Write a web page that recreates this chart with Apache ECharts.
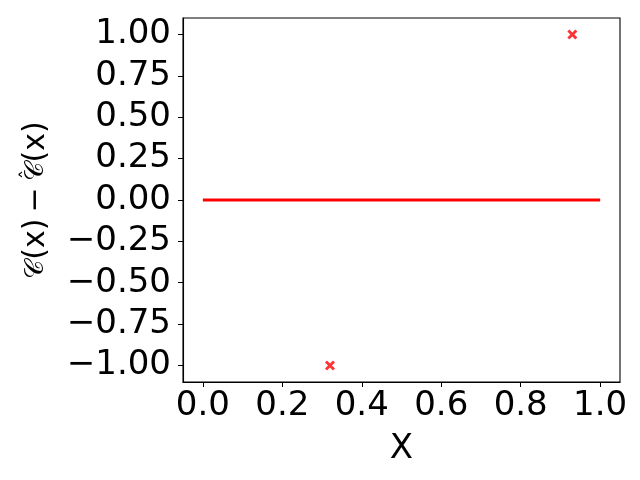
<!DOCTYPE html>
<html>
<head>
<meta charset="utf-8">
<script src="https://cdn.jsdelivr.net/npm/echarts@6/dist/echarts.min.js"></script>
<style>
  html, body { margin: 0; padding: 0; background: #fff; }
  #chart { width: 640px; height: 480px; }
</style>
</head>
<body>
<div id="chart"></div>
<script>
// 数据
const lineX = [0, 1]
const lineY = [0, 0]
const pointX = [0.32, 0.93]
const pointY = [-1, 1]
const xTicks = [0, 0.2, 0.4, 0.6, 0.8, 1.0]
const yTicks = [-1, -0.75, -0.5, -0.25, 0, 0.25, 0.5, 0.75, 1]

const fontFamily = 'DejaVu Sans'
const fontSize = 34
const minus = v => String(v).replace('-', '\u2212')
const calC = '\uD835\uDC9E'

const chart = echarts.init(document.getElementById('chart'))

const option = {
  animation: false,
  grid: {
    left: 183, right: 20, top: 18, bottom: 98,
    outerBoundsMode: 'none',
    containLabel: false,
    show: true, borderColor: '#000', borderWidth: 1.1
  },
  xAxis: {
    type: 'value',
    min: -0.05,
    max: 1.05,
    name: 'X',
    nameLocation: 'middle',
    nameGap: 50,
    nameTextStyle: { fontFamily, fontSize, color: '#000' },
    splitLine: { show: false },
    axisLine: { show: true, onZero: false, lineStyle: { color: '#000', width: 1.1 } },
    axisTick: { show: true, length: 5, customValues: xTicks, lineStyle: { color: '#000' } },
    axisLabel: {
      customValues: xTicks,
      fontFamily, fontSize, color: '#000', margin: 7,
      formatter: v => minus(v.toFixed(1))
    }
  },
  yAxis: {
    type: 'value',
    min: -1.1,
    max: 1.1,
    // 帽子符号用零宽 rich 片段叠在 C 上
    name: '{c|' + calC + '}{t|(x)\u2009\u2212\u2009}{h|\u2002\u2009\u02C6}{c|' + calC + '}{t|(x)}',
    nameLocation: 'middle',
    nameGap: 130,
    nameTextStyle: {
      fontFamily, fontSize: 30, color: '#000',
      rich: {
        c: { fontFamily, fontSize: 26, color: '#000' },
        t: { fontFamily, fontSize: 30, color: '#000' },
        h: { fontFamily, fontSize: 20, color: '#000', width: 0, padding: [0, 0, 14, 0] }
      }
    },
    splitLine: { show: false },
    axisLine: { show: true, onZero: false, lineStyle: { color: '#000', width: 1.1 } },
    axisTick: { show: true, length: 5, customValues: yTicks, lineStyle: { color: '#000' } },
    axisLabel: {
      customValues: yTicks,
      fontFamily, fontSize, color: '#000', margin: 12,
      formatter: v => minus(v.toFixed(2))
    }
  },
  series: [
    {
      type: 'line',
      data: lineX.map((x, i) => [x, lineY[i]]),
      showSymbol: false,
      lineStyle: { color: '#ff0000', width: 3 },
      z: 2
    },
    {
      type: 'scatter',
      data: pointX.map((x, i) => [x, pointY[i]]),
      symbol: 'path://M2,0 L5,3 L8,0 L10,2 L7,5 L10,8 L8,10 L5,7 L2,10 L0,8 L3,5 L0,2 Z',
      symbolSize: 10,
      itemStyle: { color: '#ff0000' },
      z: 3
    }
  ]
}

chart.setOption(option)
</script>
</body>
</html>
